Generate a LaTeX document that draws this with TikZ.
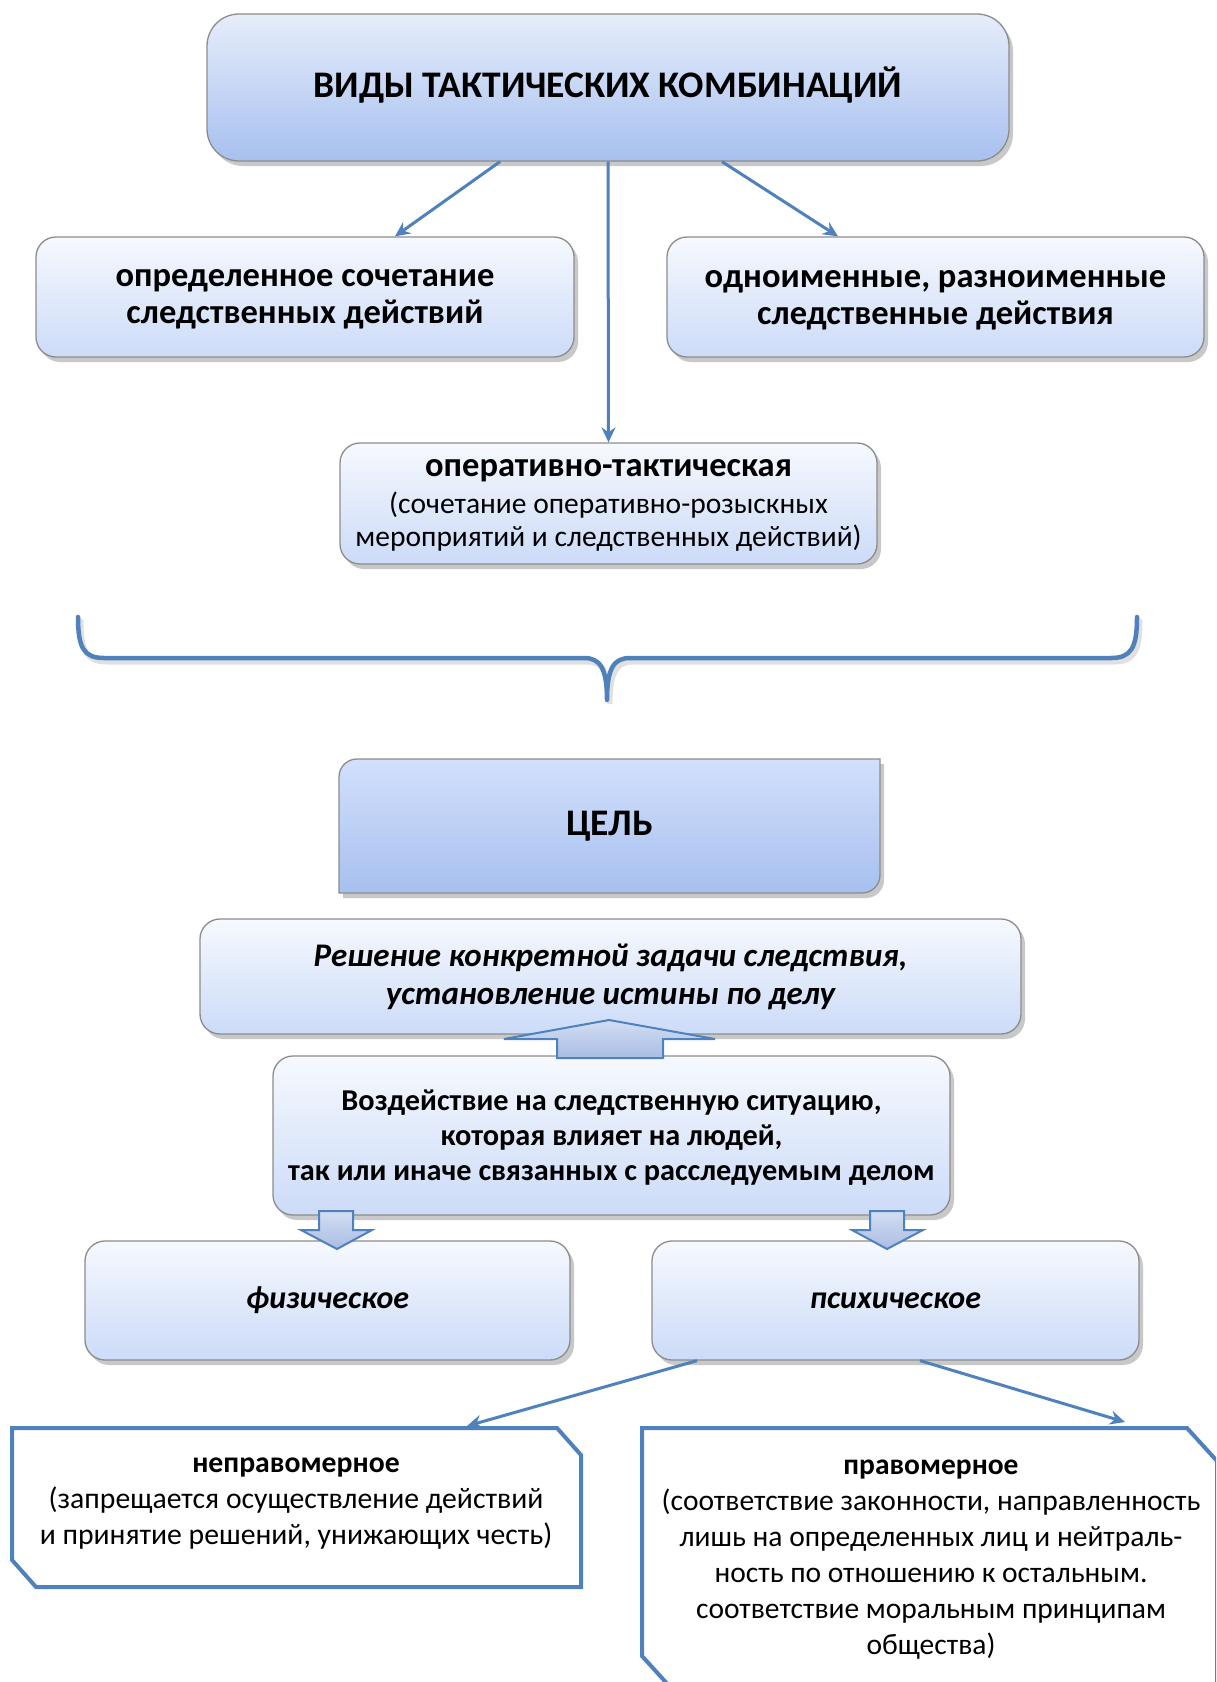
\documentclass[tikz,border=0pt]{standalone}
\usepackage{fontspec}
\setmainfont{Carlito}
\usetikzlibrary{arrows.meta,shadows}
\definecolor{ablue}{HTML}{4F81BD}
\definecolor{dtop}{HTML}{E6EDFB}
\definecolor{dbot}{HTML}{A7C0EF}
\definecolor{gtop}{HTML}{D2E0FC}
\definecolor{ltop}{HTML}{F6F9FE}
\definecolor{lbot}{HTML}{CCDBF8}
\definecolor{atop}{HTML}{D3DEF3}
\definecolor{abot}{HTML}{A9BCE3}
\newcommand\myfs[2]{\fontsize{#1pt}{#2pt}\selectfont}
\begin{document}
\begin{tikzpicture}[x=1pt,y=-1pt,
  shad/.style={drop shadow={shadow xshift=4pt,shadow yshift=-5pt,opacity=0.3,fill=black!70}},
  box/.style={draw=black!45,line width=1.3pt,rounded corners=20pt,align=center,inner sep=0pt,shad},
  darkbox/.style={box,top color=dtop,bottom color=dbot,rounded corners=32pt},
  lightbox/.style={box,top color=ltop,bottom color=lbot},
  conn/.style={draw=ablue,line width=3pt,-{Stealth[length=15pt,width=14pt,inset=5pt]}},
  blockarrow/.style={draw=ablue,line width=2pt,top color=atop,bottom color=abot,line join=miter},
  outline/.style={draw=ablue,line width=4pt,fill=white,line join=miter},
  txt/.style={align=center,inner sep=0pt}]
\useasboundingbox (0,0) rectangle (1216,1682);
\clip (0,0) rectangle (1216,1682);
\fill[white] (0,0) rectangle (1216,1682);

% top level
\node[darkbox,minimum width=802,minimum height=147] (top) at (608,87.5) {};
\node[txt,font=\bfseries\myfs{37.5}{42}] (toptxt) at (608,85) {ВИДЫ ТАКТИЧЕСКИХ КОМБИНАЦИЙ};
\node[lightbox,minimum width=538,minimum height=120] (b2) at (305,297) {};
\node[txt,font=\bfseries\myfs{34.5}{37.5}] (b2txt) at (305,299) {определенное сочетание\\следственных действий};
\node[lightbox,minimum width=537,minimum height=120] (b3) at (935.5,297) {};
\node[txt,font=\bfseries\myfs{34.5}{37.5}] (b3txt) at (935.5,300) {одноименные, разноименные\\следственные действия};
\node[lightbox,minimum width=537,minimum height=121] (b4) at (608.5,503.5) {};
\node[txt,font=\bfseries\myfs{34.5}{35}] (b4t1) at (608.5,471) {оперативно-тактическая};
\node[txt,font=\myfs{29.5}{33}] (b4t2) at (608.5,522) {(сочетание оперативно-розыскных\\мероприятий и следственных действий)};

\draw[conn] ([xshift=-108pt]top.south) -- ([xshift=90pt]b2.north);
\draw[conn] ([xshift=114pt]top.south) -- ([xshift=-97.5pt]b3.north);
\draw[conn] (top.south) -- (b4.north);

% brace
\draw[black,opacity=0.12,line width=5pt,line cap=round,xshift=3pt,yshift=-4pt]
  (78,617) .. controls (78,648) and (84,658) .. (104,658) -- (584,658)
  .. controls (600,658) and (607,668) .. (607,700)
  .. controls (607,668) and (614,658) .. (630,658) -- (1111,658)
  .. controls (1131,658) and (1137,648) .. (1137,617);
\draw[ablue,line width=4.5pt,line cap=round,line join=round]
  (78,617) .. controls (78,648) and (84,658) .. (104,658) -- (584,658)
  .. controls (600,658) and (607,668) .. (607,700)
  .. controls (607,668) and (614,658) .. (630,658) -- (1111,658)
  .. controls (1131,658) and (1137,648) .. (1137,617);

% goal
\path[draw=black!45,line width=1.3pt,top color=gtop,bottom color=dbot,shad]
  (339,893) -- (339,777) .. controls (339,767) and (347,759) .. (357,759) -- (880,759)
  -- (880,875) .. controls (880,885) and (872,893) .. (862,893) -- cycle;
\node[txt,font=\bfseries\myfs{37.5}{42}] (goal) at (609.5,826) {ЦЕЛЬ};

\node[lightbox,minimum width=821,minimum height=115] (res) at (610.5,976.5) {};
\node[txt,font=\bfseries\itshape\myfs{33}{38.5}] (restxt) at (610.5,977) {Решение конкретной задачи следствия,\\установление истины по делу};
\node[lightbox,minimum width=677,minimum height=159] (voz) at (611.5,1135.5) {};
\node[txt,font=\bfseries\myfs{30.3}{35}] (voztxt) at (611.5,1138) {Воздействие на следственную ситуацию,\\которая влияет на людей,\\так или иначе связанных с расследуемым делом};

\draw[blockarrow] (504,1039) -- (609,1020) -- (715,1039) -- (663,1039) -- (663,1058) -- (557,1058) -- (557,1039) -- cycle;

\node[lightbox,minimum width=485,minimum height=119,font=\bfseries\itshape\myfs{32}{36}] (fiz) at (327.5,1300.5) {физическое};
\node[lightbox,minimum width=487,minimum height=119,font=\bfseries\itshape\myfs{32}{36}] (psy) at (895.5,1300.5) {психическое};

\draw[blockarrow] (319,1211) -- (353,1211) -- (353,1230) -- (372,1230) -- (337,1249) -- (301,1230) -- (319,1230) -- cycle;
\draw[blockarrow] (870,1211) -- (904,1211) -- (904,1230) -- (923,1230) -- (887,1249) -- (852,1230) -- (870,1230) -- cycle;

% bottom outlined boxes
\draw[outline] (12,1428) -- (557,1428) -- (581,1455) -- (581,1587) -- (36,1587) -- (12,1560) -- cycle;
\draw[outline] (642,1428) -- (1187,1428) -- (1217,1461) -- (1217,1689) -- (672,1689) -- (642,1656) -- cycle;
\coordinate (neptip) at (467,1426);
\coordinate (pravtip) at (1125,1422);

\node[txt,font=\myfs{29.7}{36}] (neprav) at (296,1504) {\textbf{неправомерное}\\(запрещается осуществление действий\\и принятие решений, унижающих честь)};
\node[txt,font=\myfs{29.5}{36}] (prav) at (931,1560) {\textbf{правомерное}\\(соответствие законности, направленность\\лишь на определенных лиц и нейтраль-\\ность по отношению к остальным.\\соответствие моральным принципам\\общества)};

\draw[conn] ([xshift=-198.5pt]psy.south) -- (neptip);
\draw[conn] ([xshift=24.5pt]psy.south) -- (pravtip);
\end{tikzpicture}
\end{document}
